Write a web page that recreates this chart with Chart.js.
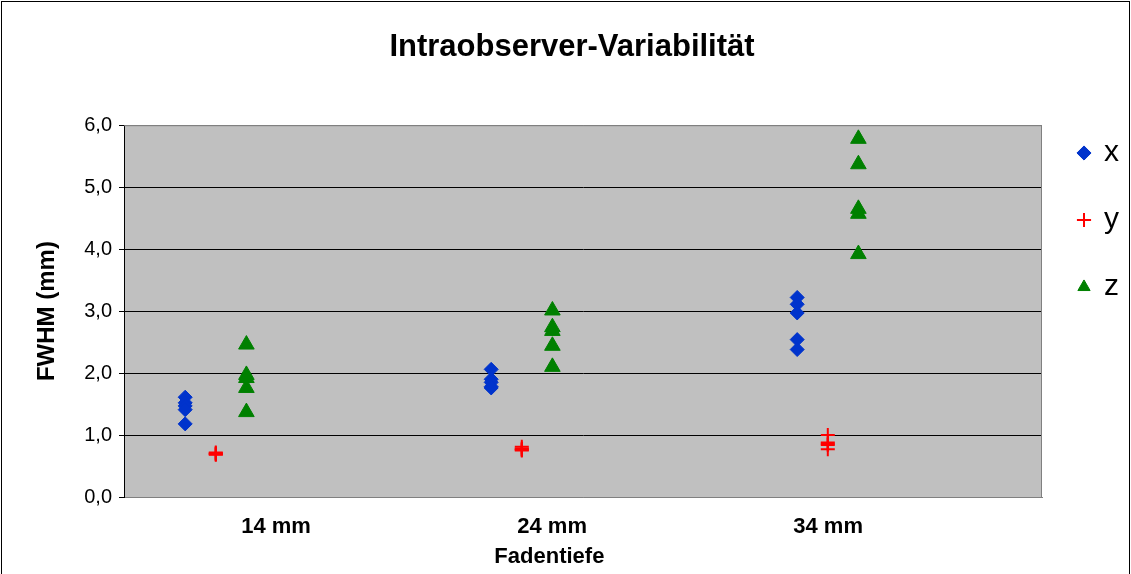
<!DOCTYPE html>
<html>
<head>
<meta charset="utf-8">
<script src="https://cdn.jsdelivr.net/npm/chart.js@4.4.0/dist/chart.umd.min.js"></script>
<style>
html,body{margin:0;padding:0;background:#fff;}
#wrap{width:1131px;height:574px;position:relative;}
</style>
</head>
<body>
<div id="wrap"><canvas id="c"></canvas></div>
<script>
// ---- data ----
const categories = ['14 mm', '24 mm', '34 mm'];
const seriesNames = ['x', 'y', 'z'];
// FWHM values (mm), one inner array per Fadentiefe category
const xFWHM = [
  [1.61, 1.52, 1.47, 1.41, 1.18],
  [2.06, 1.90, 1.85, 1.78, 1.76],
  [3.22, 3.11, 2.97, 2.54, 2.38]
];
const yFWHM = [
  [0.72, 0.70, 0.69, 0.68, 0.70],
  [0.81, 0.78, 0.76, 0.75, 0.78],
  [1.00, 0.88, 0.84, 0.77, 0.86]
];
const zFWHM = [
  [2.46, 1.97, 1.92, 1.76, 1.37],
  [3.01, 2.74, 2.68, 2.44, 2.10],
  [5.78, 5.37, 4.65, 4.57, 3.92]
];
const yTickValues = [0, 1, 2, 3, 4, 5, 6];

// ---- layout helpers (not data) ----
const seriesOffset = [0.2, 0.3, 0.4];        // position of each series inside a category slot
const labelPositions = [0.497, 1.399, 2.301]; // where the category labels sit on the x scale

function toPoints(values, s) {
  const pts = [];
  values.forEach((vals, c) => vals.forEach(v => pts.push({x: c + seriesOffset[s], y: v})));
  return pts;
}

Chart.defaults.font.family = '"Liberation Sans", Arial, Helvetica, sans-serif';
Chart.defaults.color = '#000';

const frame = {
  id: 'frame',
  beforeDraw(chart) {
    const {ctx, chartArea: a} = chart;
    ctx.save();
    ctx.fillStyle = '#fff';
    ctx.fillRect(0, 0, chart.width, chart.height);
    ctx.fillStyle = '#C0C0C0';
    ctx.fillRect(a.left, a.top, a.right - a.left, a.bottom - a.top);
    ctx.restore();
  },
  beforeDatasetsDraw(chart) {
    const {ctx, chartArea: a} = chart;
    ctx.save();
    ctx.strokeStyle = '#808080';
    ctx.lineWidth = 1;
    ctx.beginPath();
    ctx.moveTo(a.left, a.top + 0.5);
    ctx.lineTo(a.right - 0.5, a.top + 0.5);
    ctx.lineTo(a.right - 0.5, a.bottom);
    ctx.stroke();
    ctx.restore();
  },
  afterDraw(chart) {
    const ctx = chart.ctx;
    ctx.save();
    ctx.strokeStyle = '#000';
    ctx.lineWidth = 1;
    ctx.strokeRect(1.5, 1.5, chart.width - 3, chart.height + 10);
    ctx.restore();
  }
};

const colors = {
  x: '#0033CC',
  y: '#FF0000',
  z: '#008000'
};

new Chart(document.getElementById('c'), {
  type: 'scatter',
  data: {
    datasets: [
      {label: seriesNames[0], data: toPoints(xFWHM, 0), pointStyle: 'rectRot', pointRadius: 7, pointHoverRadius: 7,
       backgroundColor: colors.x, borderColor: colors.x, borderWidth: 1},
      {label: seriesNames[1], data: toPoints(yFWHM, 1), pointStyle: 'cross', pointRadius: 7, pointHoverRadius: 7,
       backgroundColor: colors.y, borderColor: colors.y, borderWidth: 2},
      {label: seriesNames[2], data: toPoints(zFWHM, 2), pointStyle: 'triangle', pointRadius: 9, pointHoverRadius: 9,
       backgroundColor: colors.z, borderColor: colors.z, borderWidth: 1}
    ]
  },
  options: {
    responsive: true,
    maintainAspectRatio: false,
    animation: false,
    layout: {padding: {left: 15, right: 2, top: 0, bottom: 0}},
    plugins: {
      tooltip: {enabled: false},
      title: {
        display: true,
        text: 'Intraobserver-Variabilität',
        font: {size: 31, weight: 'bold'},
        color: '#000',
        padding: {top: 29, bottom: 59}
      },
      legend: {
        position: 'right',
        align: 'start',
        title: {display: true, text: '', font: {size: 10}, padding: {top: 89, bottom: 0}},
        labels: {
          usePointStyle: true,
          boxWidth: 10,
          boxHeight: 10,
          padding: 37,
          color: '#000',
          font: {size: 30}
        }
      }
    },
    scales: {
      x: {
        type: 'linear',
        min: 0,
        max: 3,
        afterBuildTicks(scale) { scale.ticks = labelPositions.map(v => ({value: v})); },
        afterFit(scale) { scale.height = 77; },
        ticks: {
          autoSkip: false,
          maxRotation: 0,
          padding: 9,
          color: '#000',
          font: {size: 22, weight: 'bold'},
          callback: (v, i) => categories[i]
        },
        grid: {display: false},
        border: {display: true, color: '#808080', width: 1},
        title: {
          display: true,
          text: 'Fadentiefe' + '\u00A0'.repeat(11),
          color: '#000',
          font: {size: 22, weight: 'bold'},
          padding: {top: 0, bottom: 4}
        }
      },
      y: {
        min: 0,
        max: 6,
        afterBuildTicks(scale) { scale.ticks = yTickValues.map(v => ({value: v})); },
        afterFit(scale) { scale.width = 109; },
        ticks: {
          padding: 7,
          color: '#000',
          font: {size: 20},
          callback: v => v.toFixed(1).replace('.', ',')
        },
        grid: {
          color: c => (c.tick && (c.tick.value === 0 || c.tick.value === 6)) ? '#808080' : '#000',
          tickColor: '#000',
          tickLength: 5,
          lineWidth: 1
        },
        border: {display: true, color: '#000', width: 1},
        title: {
          display: true,
          text: 'FWHM (mm)',
          color: '#000',
          font: {size: 24, weight: 'bold'},
          padding: {top: 18, bottom: 0}
        }
      }
    }
  },
  plugins: [frame]
});
</script>
</body>
</html>
